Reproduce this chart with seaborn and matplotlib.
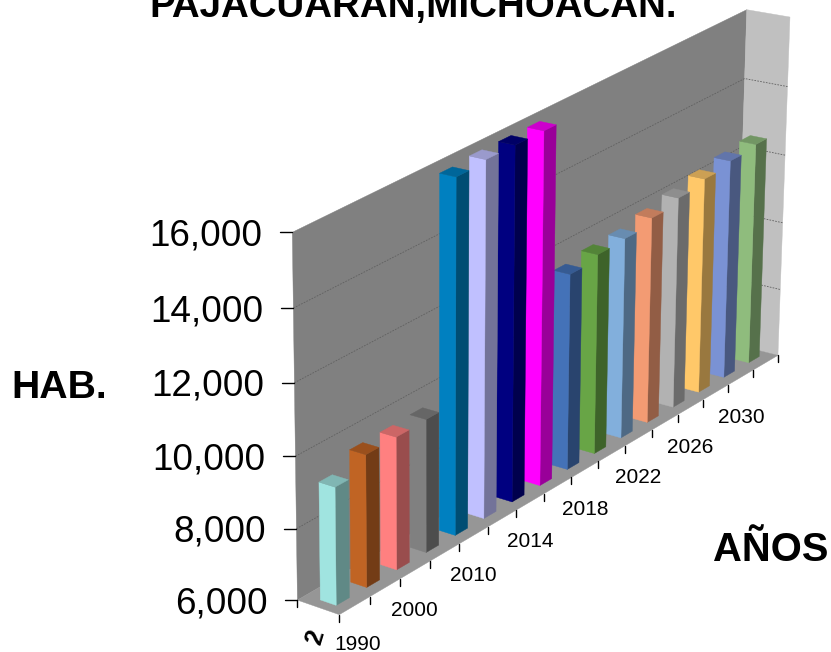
import numpy as np
import pandas as pd
import matplotlib
matplotlib.use("Agg")
from matplotlib import pyplot as plt
from matplotlib.patches import Polygon
from matplotlib.transforms import Transform, Affine2D
import seaborn as sns

# chart values (axis stops at 16,000 so the tall ones are cut there)
years = ['1990', '1995', '2000', '2005', '2010', '2012', '2014', '2016',
         '2018', '2020', '2022', '2024', '2026', '2028', '2030', '2032']
habitantes = [9280, 9700, 9720, 9750, 15930, 16000, 16000, 16000,
              11620, 11760, 11800, 11980, 12150, 12300, 12430, 12520]
bar_colors = ['#A0E4E0', '#C06424', '#FF8080', '#808080', '#0080C0', '#C0C0FF', '#000080', '#FF00FF',
              '#4472B8', '#68A546', '#82AFDC', '#F39B73', '#B2B2B2', '#FFC869', '#7A92D4', '#8FBC7D']
y_ticks = [6000, 8000, 10000, 12000, 14000, 16000]
shown_years = ['1990', '2000', '2010', '2014', '2018', '2022', '2026', '2030']

W, H = 831, 652
X0, X1 = -0.5, 15.5
Y0, Y1 = 6000, 16000
Z_FRONT, Z_BACK = 0.28, 0.66   # bar depth inside the floor

# corners of the chart box in picture pixels, used to fit the camera
box = [(0, 0, 0, 338, 614), (1, 0, 0, 781, 355), (0, 0, 1, 299, 601), (1, 0, 1, 733, 345),
       (0, 1, 1, 292, 232), (1, 1, 1, 749, 9), (1, 1, 0, 788, 18)]
rows, rhs = [], []
for a, b, c, u, v in box:
    rows.append([a, b, c, 1, 0, 0, 0, 0, -u * a, -u * b, -u * c])
    rhs.append(u)
    rows.append([0, 0, 0, 0, a, b, c, 1, -v * a, -v * b, -v * c])
    rhs.append(v)
cam = np.linalg.lstsq(np.array(rows, float), np.array(rhs, float), rcond=None)[0]
cam = np.append(cam, 1).reshape(3, 4)


def project(x, y, z):
    x, y, z = np.broadcast_arrays(np.asarray(x, float), np.asarray(y, float), np.asarray(z, float))
    p = np.stack([(x - X0) / (X1 - X0), (y - Y0) / (Y1 - Y0), z, np.ones_like(x)])
    q = cam @ p.reshape(4, -1)
    return np.column_stack([q[0] / q[2], q[1] / q[2]])


class PlaneProject(Transform):
    input_dims = 2
    output_dims = 2

    def __init__(self, z):
        super().__init__()
        self.z = z

    def transform_non_affine(self, values):
        values = np.asarray(values)
        return project(values[:, 0], values[:, 1], self.z)


def shade(color, f):
    return tuple(np.array(matplotlib.colors.to_rgb(color)) * f)


sns.set_style("white")
plt.rcParams['font.family'] = ['Liberation Sans', 'DejaVu Sans']
plt.rcParams['text.color'] = 'black'

dat = pd.DataFrame({'year': years, 'hab': habitantes})

fig = plt.figure(figsize=(W / 100, H / 100), dpi=100)
ax = fig.add_axes([0, 0, 1, 1])
sns.barplot(data=dat, x='year', y='hab', hue='year', palette=bar_colors, legend=False,
            width=0.43, saturation=1, ax=ax)
ax.set_axis_off()
px = Affine2D().scale(1 / W, -1 / H).translate(0, 1) + ax.transAxes


def face(pts, color, zorder=1):
    pts = np.array(pts)
    ax.add_patch(Polygon(project(pts[:, 0], pts[:, 1], pts[:, 2]), closed=True, transform=px, clip_on=False,
                         facecolor=color, edgecolor=color, lw=0.3, zorder=zorder))


# walls and floor
face([(X0, Y0, 1), (X1, Y0, 1), (X1, Y1, 1), (X0, Y1, 1)], '#808080')
face([(X1, Y0, 1), (X1, Y0, 0), (X1, Y1, 0), (X1, Y1, 1)], '#C0C0C0')
face([(X0, Y0, 0), (X1, Y0, 0), (X1, Y0, 1), (X0, Y0, 1)], '#969696', zorder=1.5)

# gridlines
for t in y_ticks[1:-1]:
    g = project([X0, X1, X1], [t, t, t], [1, 1, 0])
    ax.plot(g[:, 0], g[:, 1], transform=px, color='#606060', lw=0.6, ls=(0, (2, 1.5)), zorder=2, clip_on=False)

# y ticks and labels
for t in y_ticks:
    p = project(X0, t, 1)[0]
    ax.plot([p[0] - 12, p[0]], [p[1], p[1]], transform=px, color='black', lw=1, zorder=2, clip_on=False)
    ax.text(p[0] - 30, p[1] + 3.5, f'{t:,}', transform=px, ha='right', va='center', fontsize=26.6)

# x ticks, one at every slot edge
for e in np.arange(X0, X1 + 1):
    p = project(e, Y0, 0)[0]
    ax.plot([p[0], p[0]], [p[1], p[1] + 7], transform=px, color='black', lw=1, zorder=2, clip_on=False)
p = project(X0, Y0, 1)[0]
ax.plot([p[0], p[0]], [p[1], p[1] + 7], transform=px, color='black', lw=1, zorder=2, clip_on=False)

# year labels, first one sits a bit further right
for lab in shown_years:
    p = project(years.index(lab), Y0, 0)[0]
    dx, dy = (3, 38.5) if lab == '1990' else (0, 40)
    ax.text(p[0] + dx, p[1] + dy, lab, transform=px, ha='center', va='center', fontsize=15)

# bars: seaborn's patch is the front face, the other faces come from its own extent
for i, bar in enumerate(ax.patches[:len(years)]):
    x0, w, top = bar.get_x(), bar.get_width(), bar.get_height()
    x1 = x0 + w
    base = bar_colors[i]
    zo = 100 - i
    bar.set_y(Y0)
    bar.set_height(top - Y0)
    bar.set_transform(PlaneProject(Z_FRONT) + px)
    bar.set_clip_on(False)
    bar.set_facecolor(shade(base, 0.6))
    bar.set_edgecolor(shade(base, 0.6))
    bar.set_linewidth(0.3)
    bar.set_zorder(zo)
    face([(x0, Y0, Z_BACK), (x0, Y0, Z_FRONT), (x0, top, Z_FRONT), (x0, top, Z_BACK)], base, zorder=zo)
    face([(x0, top, Z_FRONT), (x1, top, Z_FRONT), (x1, top, Z_BACK), (x0, top, Z_BACK)], shade(base, 0.8), zorder=zo)

ax.set_xlim(0, 1)
ax.set_ylim(0, 1)

# titles are placed by hand like the sheet had them
ax.text(413.5, 17, 'PAJACUARAN,MICHOACAN.', transform=px, ha='center', va='baseline', fontsize=27.7, fontweight='bold')
ax.text(59, 388, 'HAB.', transform=px, ha='center', va='center', fontsize=28.3, fontweight='bold')
ax.text(770.5, 550, 'AÑOS', transform=px, ha='center', va='center', fontsize=28.8, fontweight='bold')
ax.text(315, 637.5, '2', transform=px, ha='center', va='center', fontsize=18, rotation=73, fontweight='bold')

fig.savefig('out.png', dpi=100)
